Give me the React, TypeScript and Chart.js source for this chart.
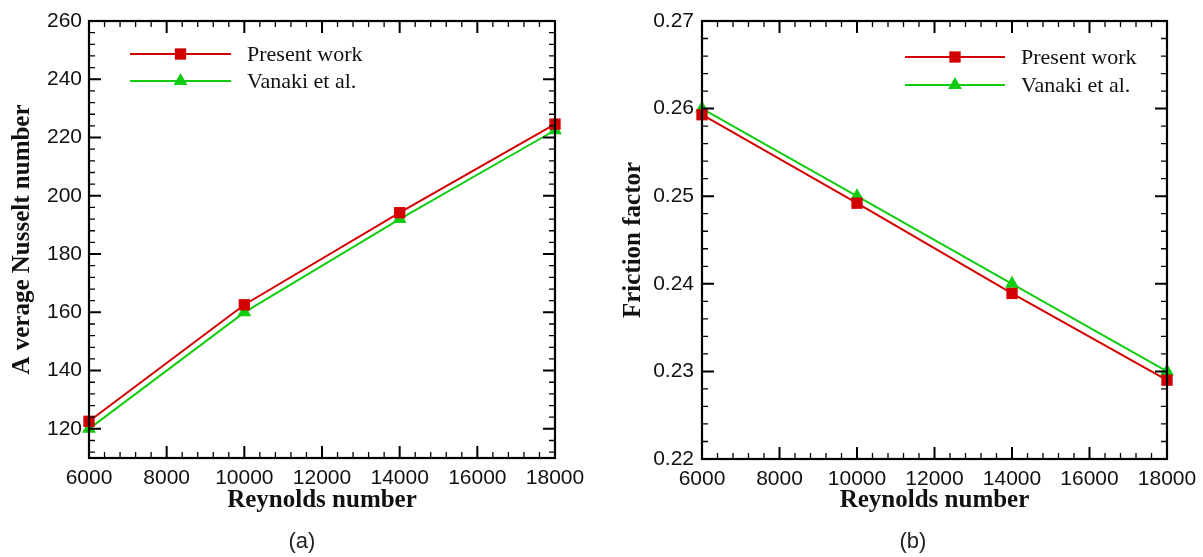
import React, { useEffect, useRef } from "react";
import { Chart, registerables } from "chart.js";

Chart.register(...registerables);

// Reynolds numbers of the simulated cases
const reynolds = [6000, 10000, 14000, 18000];

// Average Nusselt number
const nusseltPresent = [122.6, 162.6, 194.2, 224.6];
const nusseltVanaki = [120, 160, 192, 222.5];

// Friction factor
const frictionPresent = [0.2593, 0.2492, 0.2389, 0.229];
const frictionVanaki = [0.26, 0.25, 0.24, 0.23];

const seriesNames = ["Present work", "Vanaki et al."];

// Axis ranges: [min, max, major step, minor step]
const reynoldsAxis = [6000, 18000, 2000, 400];
const nusseltAxis = [110, 260, 20, 4];
const frictionAxis = [0.22, 0.27, 0.01, 0.002];

const RED = "#d20000";
const GREEN = "#12cc12";
const INK = "#111111";

const CANVAS_H = 557;

function tickValues(min: number, max: number, major: number, minor: number) {
  const out: { v: number; major: boolean }[] = [];
  const k0 = Math.ceil(min / minor - 1e-6);
  const k1 = Math.floor(max / minor + 1e-6);
  for (let k = k0; k <= k1; k++) {
    const v = k * minor;
    const r = v / major;
    out.push({ v, major: Math.abs(r - Math.round(r)) < 1e-6 });
  }
  return out;
}

// Boxed frame with inward major/minor ticks on all four sides
const framePlugin = {
  id: "frame",
  afterDatasetsDraw(chart: any, _args: any, opts: any) {
    const { ctx, chartArea: a, scales } = chart;
    const xs = scales.x;
    const ys = scales.y;
    ctx.save();
    ctx.strokeStyle = "#000";
    ctx.lineCap = "butt";
    const xt = tickValues(opts.x[0], opts.x[1], opts.x[2], opts.x[3]);
    const yt = tickValues(opts.y[0], opts.y[1], opts.y[2], opts.y[3]);
    for (const t of xt) {
      const px = xs.getPixelForValue(t.v);
      const len = t.major ? 12 : 6;
      ctx.lineWidth = t.major ? 2 : 1.3;
      ctx.beginPath();
      ctx.moveTo(px, a.bottom);
      ctx.lineTo(px, a.bottom - len);
      ctx.moveTo(px, a.top);
      ctx.lineTo(px, a.top + len);
      ctx.stroke();
    }
    for (const t of yt) {
      const py = ys.getPixelForValue(t.v);
      const len = t.major ? 12 : 6;
      ctx.lineWidth = t.major ? 2 : 1.3;
      ctx.beginPath();
      ctx.moveTo(a.left, py);
      ctx.lineTo(a.left + len, py);
      ctx.moveTo(a.right, py);
      ctx.lineTo(a.right - len, py);
      ctx.stroke();
    }
    ctx.lineWidth = 2.2;
    ctx.strokeRect(a.left, a.top, a.right - a.left, a.bottom - a.top);
    ctx.restore();
  },
};

// Series key: line with marker in the middle, then the name
const keyPlugin = {
  id: "seriesKey",
  afterDraw(chart: any, _args: any, opts: any) {
    const { ctx } = chart;
    ctx.save();
    chart.data.datasets.forEach((ds: any, i: number) => {
      const y = opts.y + i * opts.dy;
      ctx.strokeStyle = ds.borderColor;
      ctx.lineWidth = ds.borderWidth;
      ctx.beginPath();
      ctx.moveTo(opts.x1, y);
      ctx.lineTo(opts.x2, y);
      ctx.stroke();
      const cx = (opts.x1 + opts.x2) / 2;
      const r = ds.pointRadius;
      ctx.fillStyle = ds.pointBackgroundColor;
      ctx.beginPath();
      if (ds.pointStyle === "rect") {
        const s = Math.SQRT1_2 * r;
        ctx.rect(cx - s, y - s, 2 * s, 2 * s);
      } else {
        let rad = 0;
        ctx.moveTo(cx + Math.sin(rad) * r, y - Math.cos(rad) * r);
        rad += (2 * Math.PI) / 3;
        ctx.lineTo(cx + Math.sin(rad) * r, y - Math.cos(rad) * r);
        rad += (2 * Math.PI) / 3;
        ctx.lineTo(cx + Math.sin(rad) * r, y - Math.cos(rad) * r);
        ctx.closePath();
      }
      ctx.fill();
      ctx.fillStyle = INK;
      ctx.font = '22px "Liberation Serif", "Times New Roman", serif';
      ctx.textAlign = "left";
      ctx.textBaseline = "alphabetic";
      ctx.fillText(ds.label, opts.textX, y + 7);
    });
    ctx.restore();
  },
};

type PanelProps = {
  left: number;
  width: number;
  area: { left: number; top: number; right: number; bottom: number };
  yTitle: string;
  yAxis: number[];
  yDecimals: number;
  yTitlePad: number;
  yLabelPad: number;
  present: number[];
  vanaki: number[];
  legendPos: { x1: number; x2: number; y: number; dy: number; textX: number };
  caption: string;
  captionX: number;
};

function Panel(p: PanelProps) {
  const ref = useRef<HTMLCanvasElement | null>(null);

  useEffect(() => {
    if (!ref.current) return;
    const tickFont = { family: '"Liberation Sans", Arial, sans-serif', size: 21 };
    const titleFont = { family: '"Liberation Serif", "Times New Roman", serif', size: 25, weight: "bold" as const };
    const chart = new Chart(ref.current, {
      type: "line",
      data: {
        datasets: [
          {
            label: seriesNames[0],
            data: reynolds.map((x, i) => ({ x, y: p.present[i] })),
            borderColor: RED,
            backgroundColor: RED,
            borderWidth: 2,
            pointStyle: "rect",
            pointRadius: 8,
            pointBorderWidth: 0,
            pointBackgroundColor: RED,
            clip: false,
          } as any,
          {
            label: seriesNames[1],
            data: reynolds.map((x, i) => ({ x, y: p.vanaki[i] })),
            borderColor: GREEN,
            backgroundColor: GREEN,
            borderWidth: 2,
            pointStyle: "triangle",
            pointRadius: 8,
            pointBorderWidth: 0,
            pointBackgroundColor: GREEN,
            clip: false,
          } as any,
        ],
      },
      options: {
        responsive: false,
        animation: false,
        devicePixelRatio: 1,
        layout: {
          padding: { left: 0, top: p.area.top, right: p.width - p.area.right, bottom: 0 },
        },
        plugins: {
          legend: { display: false },
          tooltip: { enabled: false },
          frame: { x: reynoldsAxis, y: p.yAxis },
          seriesKey: p.legendPos,
        } as any,
        scales: {
          x: {
            type: "linear",
            min: reynoldsAxis[0],
            max: reynoldsAxis[1],
            grid: { display: false, drawTicks: false },
            border: { display: false },
            ticks: {
              stepSize: reynoldsAxis[2],
              autoSkip: false,
              maxRotation: 0,
              padding: 8,
              color: INK,
              font: tickFont,
              callback: (v: any) => String(v),
            },
            title: {
              display: true,
              text: "Reynolds number",
              color: INK,
              font: titleFont,
              padding: { top: 0, bottom: 41 },
            },
            afterFit: (s: any) => {
              s.height = CANVAS_H - p.area.bottom;
              s.paddingLeft = 0;
              s.paddingRight = 0;
            },
          },
          y: {
            type: "linear",
            min: p.yAxis[0],
            max: p.yAxis[1],
            grid: { display: false, drawTicks: false },
            border: { display: false },
            ticks: {
              stepSize: p.yAxis[2],
              includeBounds: false,
              autoSkip: false,
              padding: p.yLabelPad,
              color: INK,
              font: tickFont,
              callback: (v: any) => Number(v).toFixed(p.yDecimals),
            },
            title: {
              display: true,
              text: p.yTitle,
              color: INK,
              font: titleFont,
              padding: { top: p.yTitlePad, bottom: 0 },
            },
            afterFit: (s: any) => {
              s.width = p.area.left;
              s.paddingTop = 0;
              s.paddingBottom = 0;
            },
          },
        } as any,
      },
      plugins: [framePlugin, keyPlugin],
    });
    return () => chart.destroy();
  }, []);

  return (
    <div style={{ position: "absolute", left: p.left, top: 0, width: p.width, height: CANVAS_H }}>
      <canvas ref={ref} width={p.width} height={CANVAS_H} style={{ display: "block" }} />
      <div
        style={{
          position: "absolute",
          left: p.captionX - p.left - 50,
          top: 528,
          width: 100,
          textAlign: "center",
          font: '22px "Liberation Sans", Arial, sans-serif',
          lineHeight: "26px",
          color: "#222",
        }}
      >
        {p.caption}
      </div>
    </div>
  );
}

export default function App() {
  return (
    <div style={{ position: "fixed", left: 0, top: 0, width: 1203, height: CANVAS_H, background: "#fff" }}>
      <Panel
        left={0}
        width={600}
        area={{ left: 89, top: 21, right: 555, bottom: 458 }}
        yTitle="A verage Nusselt number"
        yAxis={nusseltAxis}
        yDecimals={0}
        yTitlePad={8}
        yLabelPad={7}
        present={nusseltPresent}
        vanaki={nusseltVanaki}
        legendPos={{ x1: 130, x2: 231, y: 54, dy: 27, textX: 247 }}
        caption="(a)"
        captionX={302}
      />
      <Panel
        left={600}
        width={603}
        area={{ left: 102, top: 21, right: 567, bottom: 459 }}
        yTitle="Friction factor"
        yAxis={frictionAxis}
        yDecimals={2}
        yTitlePad={19}
        yLabelPad={8}
        present={frictionPresent}
        vanaki={frictionVanaki}
        legendPos={{ x1: 305, x2: 405, y: 57, dy: 28, textX: 421 }}
        caption="(b)"
        captionX={913}
      />
    </div>
  );
}
